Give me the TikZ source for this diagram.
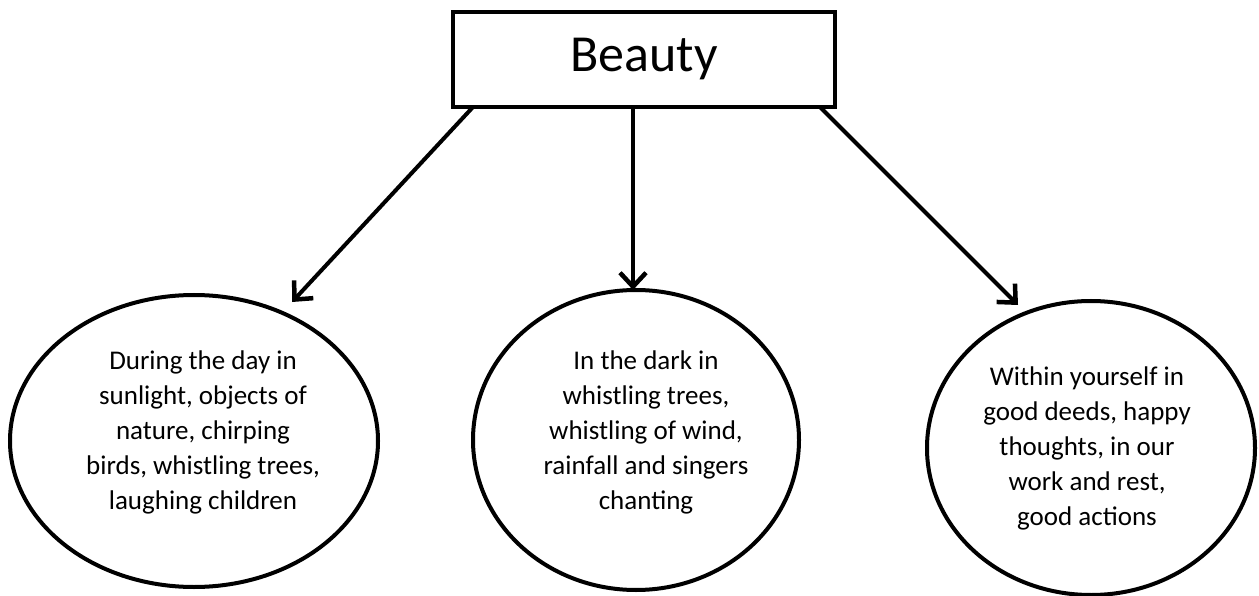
\documentclass[tikz,border=0pt]{standalone}
\usepackage{fontspec}
\setmainfont{Carlito}
\usetikzlibrary{shapes.geometric,arrows.meta}
\tikzset{
  ell/.style={draw,ellipse,line width=4pt,inner sep=0pt},
  txt/.style={align=center,font=\fontsize{27}{35}\selectfont,inner sep=0pt},
  arr/.style={line width=4pt,-{Straight Barb[length=14pt,width=26pt,line width=4.5pt]}},
  topbox/.style={draw,line width=4pt,inner sep=0pt,minimum width=382pt,minimum height=95pt,font=\fontsize{52}{60}\selectfont}
}
\begin{document}
\begin{tikzpicture}[x=1pt,y=-1pt]
\useasboundingbox (0,0) rectangle (1259,596);
\node[topbox] (beauty) at (644,59.5) {Beauty};
\node[ell,minimum width=368pt,minimum height=292pt] (e1) at (194,441) {};
\node[ell,minimum width=326pt,minimum height=300pt] (e2) at (636,440) {};
\node[ell,minimum width=328pt,minimum height=294pt] (e3) at (1091,448) {};
\node[txt] (t1) at (203,432) {During the day in\\sunlight, objects of\\nature, chirping\\birds, whistling trees,\\laughing children};
\node[txt] (t2) at (646,432) {In the dark in\\whistling trees,\\whistling of wind,\\rainfall and singers\\chanting};
\node[txt] (t3) at (1087,448) {Within yourself in\\good deeds, happy\\thoughts, in our\\work and rest,\\good actions};
\coordinate (s1) at (473,107);
\coordinate (s2) at (633,107);
\coordinate (s3) at (820,107);
\coordinate (p1) at (292,302);
\coordinate (p2) at (633,290);
\coordinate (p3) at (1018,305);
\draw[arr] (s1) -- (p1);
\draw[arr] (s2) -- (p2);
\draw[arr] (s3) -- (p3);
\end{tikzpicture}
\end{document}
